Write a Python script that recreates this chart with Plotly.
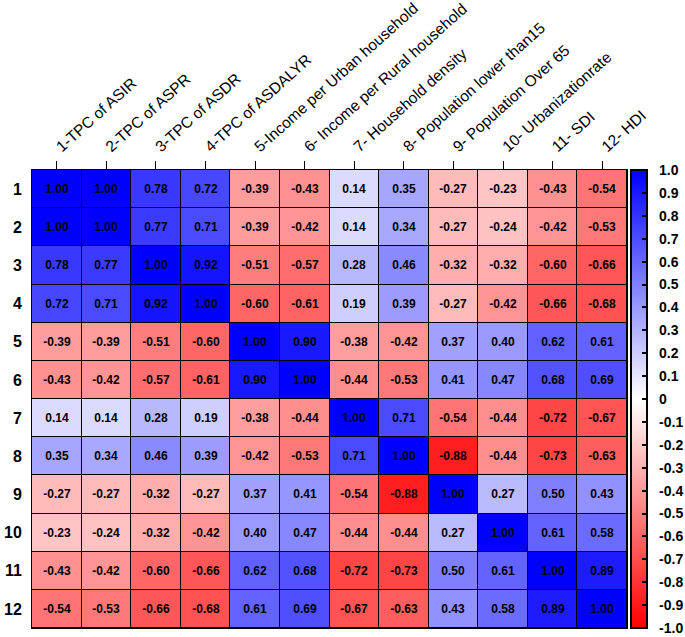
import plotly.graph_objects as go

col_labels = ["1-TPC of ASIR", "2-TPC of ASPR", "3-TPC of ASDR", "4-TPC of ASDALYR",
              "5-Income per Urban household", "6- Income per Rural household",
              "7- Household density", "8- Population lower than15",
              "9- Population Over 65", "10- Urbanizationrate", "11- SDI", "12- HDI"]
row_labels = [str(i) for i in range(1, 13)]

r1 = [1.00, 1.00, 0.78, 0.72, -0.39, -0.43, 0.14, 0.35, -0.27, -0.23, -0.43, -0.54]
r2 = [1.00, 1.00, 0.77, 0.71, -0.39, -0.42, 0.14, 0.34, -0.27, -0.24, -0.42, -0.53]
r3 = [0.78, 0.77, 1.00, 0.92, -0.51, -0.57, 0.28, 0.46, -0.32, -0.32, -0.60, -0.66]
r4 = [0.72, 0.71, 0.92, 1.00, -0.60, -0.61, 0.19, 0.39, -0.27, -0.42, -0.66, -0.68]
r5 = [-0.39, -0.39, -0.51, -0.60, 1.00, 0.90, -0.38, -0.42, 0.37, 0.40, 0.62, 0.61]
r6 = [-0.43, -0.42, -0.57, -0.61, 0.90, 1.00, -0.44, -0.53, 0.41, 0.47, 0.68, 0.69]
r7 = [0.14, 0.14, 0.28, 0.19, -0.38, -0.44, 1.00, 0.71, -0.54, -0.44, -0.72, -0.67]
r8 = [0.35, 0.34, 0.46, 0.39, -0.42, -0.53, 0.71, 1.00, -0.88, -0.44, -0.73, -0.63]
r9 = [-0.27, -0.27, -0.32, -0.27, 0.37, 0.41, -0.54, -0.88, 1.00, 0.27, 0.50, 0.43]
r10 = [-0.23, -0.24, -0.32, -0.42, 0.40, 0.47, -0.44, -0.44, 0.27, 1.00, 0.61, 0.58]
r11 = [-0.43, -0.42, -0.60, -0.66, 0.62, 0.68, -0.72, -0.73, 0.50, 0.61, 1.00, 0.89]
r12 = [-0.54, -0.53, -0.66, -0.68, 0.61, 0.69, -0.67, -0.63, 0.43, 0.58, 0.89, 1.00]
z = [r1, r2, r3, r4, r5, r6, r7, r8, r9, r10, r11, r12]

cbar_vals = [round(-1 + 0.1 * i, 1) for i in range(21)]
cbar_text = ["\u00a0\u00a0" + ("0" if v == 0 else f"{v:.1f}") for v in cbar_vals]

FONT = "Liberation Sans, Arial, sans-serif"
idx = list(range(12))

fig = go.Figure(go.Heatmap(
    z=z, x=idx, y=idx,
    zmin=-1, zmax=1,
    colorscale=[[0, "rgb(255,0,0)"], [0.5, "rgb(255,255,255)"], [1, "rgb(0,0,255)"]],
    xgap=1, ygap=1,
    texttemplate="%{z:.2f}",
    textfont=dict(family=FONT, size=12, color="black", weight="bold"),
    hoverinfo="skip",
    colorbar=dict(
        x=1.0067, xanchor="left", xpad=0, ypad=0,
        y=0.5, yanchor="middle", len=1, lenmode="fraction",
        thickness=16, outlinewidth=2, outlinecolor="black",
        tickvals=cbar_vals, ticktext=cbar_text,
        ticks="inside", ticklen=6, tickwidth=2, tickcolor="black",
        ticklabeloverflow="allow",
        tickfont=dict(family=FONT, size=14, color="black", weight="bold"),
    ),
))

fig.update_layout(
    width=685, height=637,
    margin=dict(l=32, r=58, t=170, b=9, autoexpand=False),
    paper_bgcolor="white", plot_bgcolor="black",
    xaxis=dict(
        side="top", tickmode="array", tickvals=idx, ticktext=col_labels,
        tickangle=-42, ticks="outside", ticklen=8, tickcolor="black", tickwidth=1,
        tickfont=dict(family=FONT, size=15.5, color="black"),
        range=[-0.5, 11.5], showgrid=False, zeroline=False, automargin=False,
        showline=True, linecolor="black", linewidth=1, mirror=True,
    ),
    yaxis=dict(
        tickmode="array", tickvals=idx, ticktext=row_labels,
        autorange=False, range=[11.5, -0.5], automargin=False,
        ticks="", ticklabelstandoff=6,
        tickfont=dict(family=FONT, size=16, color="black", weight="bold"),
        showgrid=False, zeroline=False,
        showline=True, linecolor="black", linewidth=1, mirror=True,
    ),
)

fig.write_html("out.html", config={"displayModeBar": False},
               post_script="document.body.style.margin='0px';")
